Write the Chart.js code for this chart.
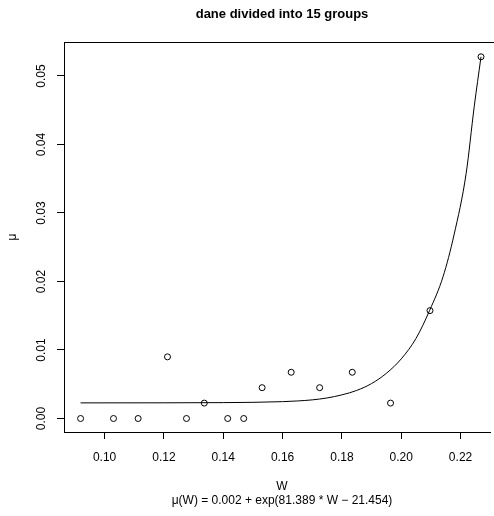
<!DOCTYPE html>
<html>
<head>
<meta charset="utf-8">
<script src="https://cdn.jsdelivr.net/npm/chart.js@4/dist/chart.umd.min.js"></script>
<style>
  html, body { margin: 0; padding: 0; background: #ffffff; }
  #wrap { width: 494px; height: 516px; }
</style>
</head>
<body>
<div id="wrap"><canvas id="c" width="494" height="516"></canvas></div>
<script>
// ---- data ----
const titleText = "dane divided into 15 groups";
const xTitle = "W";
const formulaText = "\u03bc(W) = 0.002 + exp(81.389 * W \u2212 21.454)";
const yTitle = "\u03bc";

const pointsW  = [0.0919, 0.1030, 0.1113, 0.1212, 0.1276, 0.1336, 0.1415, 0.1469, 0.1531, 0.1629, 0.1725, 0.1835, 0.1964, 0.2097, 0.2269];
const pointsMu = [0, 0, 0, 0.0090, 0, 0.00225, 0, 0, 0.0045, 0.00675, 0.0045, 0.00675, 0.00225, 0.01575, 0.0528];

const curveW  = [0.0919, 0.120, 0.140, 0.150, 0.160, 0.165, 0.170, 0.175, 0.180, 0.185, 0.190, 0.195, 0.200, 0.205, 0.2096, 0.2141, 0.2178, 0.2219, 0.2246, 0.2269];
const curveMu = [0.00228, 0.00229, 0.00232, 0.00236, 0.00246, 0.00256, 0.00272, 0.00300, 0.00345, 0.00410, 0.00510, 0.00660, 0.00870, 0.01170, 0.01580, 0.0207, 0.0268, 0.0358, 0.0455, 0.0528];

const xTicks = [0.10, 0.12, 0.14, 0.16, 0.18, 0.20, 0.22];
const xTickLabels = ["0.10", "0.12", "0.14", "0.16", "0.18", "0.20", "0.22"];
const yTicks = [0.00, 0.01, 0.02, 0.03, 0.04, 0.05];
const yTickLabels = ["0.00", "0.01", "0.02", "0.03", "0.04", "0.05"];

const FONT = "'Liberation Sans', Arial, Helvetica, sans-serif";

const textPlugin = {
  id: 'textPlugin',
  afterDraw(chart) {
    const ctx = chart.ctx;
    const ca = chart.chartArea;
    const ys = chart.scales.y;
    ctx.save();
    // top border of box (right edge lies beyond the canvas)
    ctx.strokeStyle = '#000';
    ctx.lineWidth = 1;
    ctx.beginPath();
    ctx.moveTo(ca.left, ca.top + 0.5);
    ctx.lineTo(chart.width, ca.top + 0.5);
    ctx.stroke();

    ctx.fillStyle = '#000';
    // title
    ctx.font = "bold 13px " + FONT;
    ctx.textAlign = 'center';
    ctx.textBaseline = 'middle';
    ctx.fillText(titleText, 282, 14);
    // x titles
    ctx.font = "12px " + FONT;
    ctx.fillText(xTitle, 282, 487);
    ctx.fillText(formulaText, 282, 501);
    // y tick labels (rotated)
    yTicks.forEach((v, i) => {
      const py = ys.getPixelForValue(v);
      ctx.save();
      ctx.translate(42, py);
      ctx.rotate(-Math.PI / 2);
      ctx.fillText(yTickLabels[i], 0, 0);
      ctx.restore();
    });
    // y title
    ctx.save();
    ctx.translate(13, (ca.top + ca.bottom) / 2);
    ctx.rotate(-Math.PI / 2);
    ctx.fillText(yTitle, 0, 0);
    ctx.restore();
    ctx.restore();
  }
};

new Chart(document.getElementById('c'), {
  type: 'scatter',
  data: {
    datasets: [
      {
        type: 'scatter',
        data: pointsW.map((w, i) => ({ x: w, y: pointsMu[i] })),
        pointStyle: 'circle',
        pointRadius: 3,
        pointHoverRadius: 3,
        borderColor: '#000',
        backgroundColor: 'rgba(0,0,0,0)',
        borderWidth: 1
      },
      {
        type: 'line',
        data: curveW.map((w, i) => ({ x: w, y: curveMu[i] })),
        borderColor: '#000',
        borderWidth: 1,
        pointRadius: 0,
        fill: false,
        cubicInterpolationMode: 'monotone',
        showLine: true
      }
    ]
  },
  options: {
    responsive: false,
    animation: false,
    devicePixelRatio: 1,
    layout: { padding: { top: 42, left: 0, right: 0, bottom: 0 } },
    plugins: { legend: { display: false }, title: { display: false }, tooltip: { enabled: false } },
    scales: {
      x: {
        type: 'linear',
        min: 0.08631,
        max: 0.22993,
        afterBuildTicks: s => { s.ticks = xTicks.map(v => ({ value: v })); },
        afterFit: s => { s.height = 84; },
        ticks: {
          callback: (v) => { const i = xTicks.findIndex(t => Math.abs(t - v) < 1e-9); return i >= 0 ? xTickLabels[i] : ''; },
          color: '#000',
          font: { family: FONT, size: 12 },
          padding: 11,
          maxRotation: 0,
          minRotation: 0
        },
        grid: { display: true, drawOnChartArea: false, drawTicks: true, tickLength: 7, color: '#000', lineWidth: 1 },
        border: { display: true, color: '#000', width: 1 }
      },
      y: {
        type: 'linear',
        min: -0.00197,
        max: 0.05496,
        afterBuildTicks: s => { s.ticks = yTicks.map(v => ({ value: v })); },
        afterFit: s => { s.width = 64; },
        ticks: { display: false },
        grid: { display: true, drawOnChartArea: false, drawTicks: true, tickLength: 7, color: '#000', lineWidth: 1 },
        border: { display: true, color: '#000', width: 1 }
      }
    }
  },
  plugins: [textPlugin]
});
</script>
</body>
</html>
